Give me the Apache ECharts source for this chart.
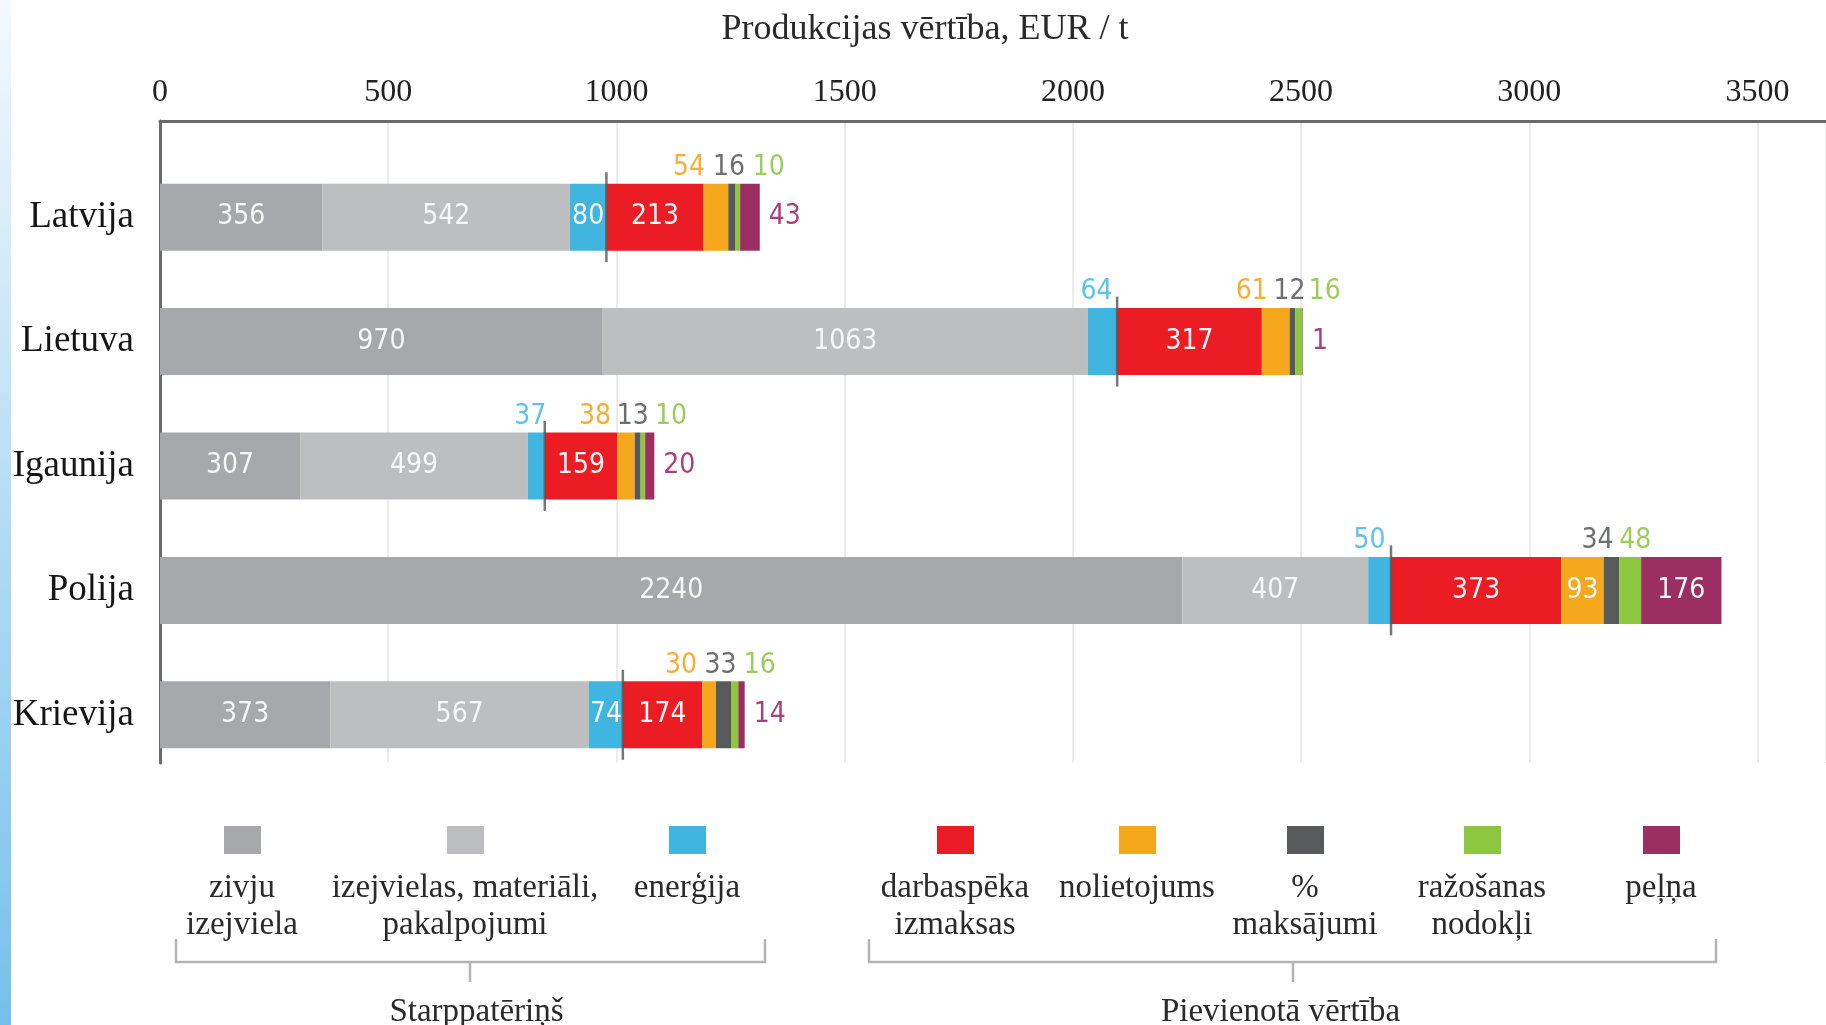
<!DOCTYPE html>
<html>
<head>
<meta charset="utf-8">
<title>Produkcijas vērtība</title>
<script src="https://cdn.jsdelivr.net/npm/echarts@6/dist/echarts.min.js"></script>
<style>
  html, body { margin: 0; padding: 0; background: #fff; }
  #chart { width: 1826px; height: 1025px; }
</style>
</head>
<body>
<div id="chart"></div>
<script>
// valstis un izmaksu sastāvdaļas, EUR / t
var countries = ['Latvija', 'Lietuva', 'Igaunija', 'Polija', 'Krievija'];
var zivjuIzejviela = [356, 970, 307, 2240, 373];
var izejvielas = [542, 1063, 499, 407, 567];
var energija = [80, 64, 37, 50, 74];
var darbaspeks = [213, 317, 159, 373, 174];
var nolietojums = [54, 61, 38, 93, 30];
var maksajumi = [16, 12, 13, 34, 33];
var nodokli = [10, 16, 10, 48, 16];
var pelna = [43, 1, 20, 176, 14];

var seriesNames = ['zivju izejviela', 'izejvielas, materiāli, pakalpojumi', 'enerģija',
    'darbaspēka izmaksas', 'nolietojums', '% maksājumi', 'ražošanas nodokļi', 'peļņa'];
var legendLines = ['zivju\nizejviela', 'izejvielas, materiāli,\npakalpojumi', 'enerģija',
    'darbaspēka\nizmaksas', 'nolietojums', '%\nmaksājumi', 'ražošanas\nnodokļi', 'peļņa'];
var groupNames = ['Starppatēriņš', 'Pievienotā vērtība'];

var allValues = [zivjuIzejviela, izejvielas, energija, darbaspeks, nolietojums, maksajumi, nodokli, pelna];
var barColors = ['#a7a8ab', '#bdbec0', '#3fb5e0', '#ec1c24', '#f5a81c', '#58595b', '#8dc63f', '#9b2f62'];
var outColors = ['#8a8b8e', '#9a9b9e', '#5cc3ea', '#ec1c24', '#f8ae35', '#6d6e70', '#9ccd5c', '#a8407a'];

// horizontal nudge of the small labels drawn above the bar (series x country)
var topDx = [
    [0, 0, 0, 0, 0],
    [0, 0, 0, 0, 0],
    [0, -6, -6, -10, 0],
    [0, 0, 0, 0, 0],
    [-27, -24, -31, 0, -28],
    [-3, -3, -5, -14, -3],
    [31, 26, 28, 5, 25],
    [0, 0, 0, 0, 0]
];

var serif = "'Liberation Serif', 'Times New Roman', serif";
var narrow = "'Liberation Sans Narrow', 'Arial Narrow', 'DejaVu Sans Condensed', sans-serif";

var myChart = echarts.init(document.getElementById('chart'));

var series = allValues.map(function (vals, s) {
    return {
        name: seriesNames[s],
        type: 'bar',
        stack: 'total',
        xAxisIndex: 0,
        yAxisIndex: 0,
        barWidth: 67,
        itemStyle: { color: barColors[s] },
        data: vals.map(function (v, c) {
            var label;
            if (v >= 70) {
                label = { show: true, position: 'inside', color: '#f7f7f7' };
            } else if (s === 7) {
                label = { show: true, position: 'right', distance: 9, color: outColors[s] };
            } else {
                label = { show: true, position: 'top', distance: 2, offset: [topDx[s][c], 0], color: outColors[s] };
            }
            label.fontFamily = narrow;
            label.fontSize = 28;
            return { value: v, label: label };
        })
    };
});

// robeža starp starppatēriņu un pievienoto vērtību
series.push({
    type: 'scatter',
    xAxisIndex: 0,
    yAxisIndex: 0,
    symbol: 'rect',
    symbolSize: [2.5, 90],
    itemStyle: { color: '#555' },
    z: 5,
    silent: true,
    data: countries.map(function (c, i) {
        return [zivjuIzejviela[i] + izejvielas[i] + energija[i], c];
    })
});

// leģenda: ikonas no leģendas komponentes, teksts zem tām
var legendCx = [242, 465, 687, 955, 1137, 1305, 1482, 1661];
var legends = seriesNames.map(function (n, i) {
    return {
        data: [n],
        left: legendCx[i] - 18,
        top: 826,
        padding: 0,
        icon: 'rect',
        itemWidth: 37,
        itemHeight: 28,
        selectedMode: false,
        formatter: function () { return ''; }
    };
});

var graphics = [{
    type: 'rect',
    shape: { x: 0, y: 0, width: 11, height: 1025 },
    style: {
        fill: new echarts.graphic.LinearGradient(0, 0, 0, 1, [
            { offset: 0, color: '#f4f9fd' },
            { offset: 1, color: '#74c0ec' }
        ])
    },
    silent: true
}];
legendLines.forEach(function (t, i) {
    graphics.push({
        type: 'text',
        x: legendCx[i],
        y: 870,
        style: {
            text: t, fill: '#2a2a2a', font: '33px ' + serif,
            align: 'center', verticalAlign: 'top', lineHeight: 37
        }
    });
});
var brackets = [[176, 765, 470], [869, 1716, 1293]];
brackets.forEach(function (b, i) {
    graphics.push({
        type: 'polyline',
        shape: { points: [[b[0], 939], [b[0], 962], [b[1], 962], [b[1], 939]] },
        style: { stroke: '#b4b4b4', lineWidth: 2.5, fill: null }
    });
    graphics.push({
        type: 'line',
        shape: { x1: b[2], y1: 962, x2: b[2], y2: 982 },
        style: { stroke: '#b4b4b4', lineWidth: 2.5 }
    });
    graphics.push({
        type: 'text',
        x: (b[0] + b[1]) / 2 + (i === 0 ? 6 : -12),
        y: 1012,
        style: {
            text: groupNames[i], fill: '#2a2a2a', font: '33px ' + serif,
            align: 'center', verticalAlign: 'middle'
        }
    });
});

var option = {
    animation: false,
    title: {
        text: 'Produkcijas vērtība, EUR / t',
        left: 920,
        top: 7,
        textAlign: 'center',
        textStyle: { fontFamily: serif, fontSize: 36, fontWeight: 'normal', color: '#2a2a2a' }
    },
    legend: legends,
    grid: [
        { left: 160, right: 0, top: 155, height: 622 },
        { left: 160, right: 0, top: 121, height: 642 }
    ],
    xAxis: [
        { type: 'value', gridIndex: 0, min: 0, max: 3650, show: false },
        {
            type: 'value', gridIndex: 1, position: 'top', min: 0, max: 3650, interval: 500,
            axisLine: { show: true, onZero: false, lineStyle: { color: '#6a6a6c', width: 3 } },
            axisTick: { show: false },
            axisLabel: {
                showMaxLabel: false, margin: 12, fontFamily: serif, fontSize: 32, color: '#222',
                formatter: function (v) { return String(v); }
            },
            splitLine: { show: true, lineStyle: { color: '#ececec', width: 2 } }
        }
    ],
    yAxis: [
        {
            type: 'category', gridIndex: 0, data: countries, inverse: true,
            axisLine: { show: false }, axisTick: { show: false },
            axisLabel: { margin: 26, fontFamily: serif, fontSize: 37, color: '#151515' }
        },
        {
            type: 'value', gridIndex: 1, min: 0, max: 1,
            axisLine: { show: true, lineStyle: { color: '#6a6a6c', width: 3 } },
            axisTick: { show: false }, axisLabel: { show: false }, splitLine: { show: false }
        }
    ],
    graphic: graphics,
    series: series
};
myChart.setOption(option);
</script>
</body>
</html>
